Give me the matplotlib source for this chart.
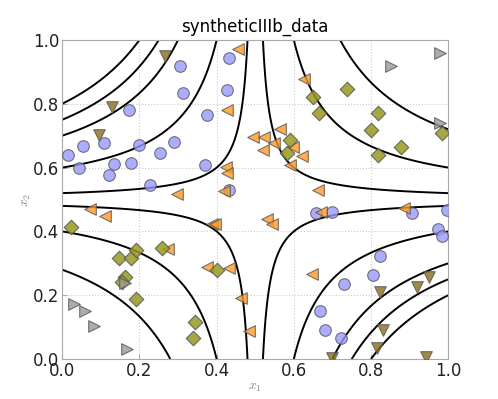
import numpy as np
import matplotlib.pyplot as plt

plt.rcParams['mathtext.fontset'] = 'cm'

# class 1: circles
circ_x = [0.305, 0.431, 0.312, 0.426, 0.174, 0.376, 0.016, 0.043, 0.053, 0.107, 0.135, 0.121,
          0.179, 0.198, 0.254, 0.290, 0.228, 0.369, 0.433, 0.657, 0.698, 0.907, 0.997, 0.973,
          0.984, 0.823, 0.804, 0.731, 0.669, 0.682, 0.721]
circ_y = [0.919, 0.944, 0.834, 0.843, 0.780, 0.766, 0.638, 0.598, 0.667, 0.677, 0.611, 0.577,
          0.614, 0.672, 0.647, 0.680, 0.546, 0.608, 0.530, 0.458, 0.461, 0.458, 0.468, 0.407,
          0.386, 0.323, 0.264, 0.235, 0.151, 0.092, 0.065]

# class 2: left triangles
ltri_x = [0.456, 0.626, 0.426, 0.493, 0.524, 0.564, 0.549, 0.520, 0.599, 0.620, 0.590, 0.423,
          0.426, 0.419, 0.297, 0.662, 0.072, 0.111, 0.387, 0.397, 0.530, 0.543, 0.670, 0.885,
          0.274, 0.374, 0.433, 0.646, 0.464, 0.483]
ltri_y = [0.970, 0.877, 0.780, 0.695, 0.696, 0.722, 0.677, 0.656, 0.664, 0.636, 0.607, 0.603,
          0.582, 0.526, 0.517, 0.531, 0.471, 0.449, 0.423, 0.423, 0.439, 0.423, 0.462, 0.473,
          0.344, 0.289, 0.286, 0.268, 0.191, 0.087]

# class 3: diamonds
diam_x = [0.737, 0.649, 0.665, 0.818, 0.799, 0.984, 0.878, 0.818, 0.589, 0.582, 0.022, 0.146,
          0.178, 0.191, 0.259, 0.162, 0.156, 0.190, 0.400, 0.344, 0.338]
diam_y = [0.845, 0.820, 0.771, 0.770, 0.717, 0.708, 0.663, 0.638, 0.685, 0.645, 0.414, 0.318,
          0.318, 0.341, 0.347, 0.258, 0.241, 0.187, 0.280, 0.116, 0.066]

# class 4: down triangles
dtri_x = [0.266, 0.129, 0.095, 0.823, 0.920, 0.951, 0.832, 0.815, 0.699, 0.942]
dtri_y = [0.948, 0.790, 0.703, 0.211, 0.226, 0.257, 0.092, 0.035, 0.003, 0.007]

# class 5: right triangles
rtri_x = [0.980, 0.852, 0.980, 0.031, 0.059, 0.081, 0.167, 0.163]
rtri_y = [0.958, 0.918, 0.740, 0.173, 0.150, 0.103, 0.031, 0.239]

levels = [-0.15, -0.125, -0.1, -0.05, -0.01, 0.01, 0.05, 0.11]

fig = plt.figure(figsize=(4.98, 3.99), dpi=100)
ax = fig.add_axes([0.125, 0.1, 0.775, 0.8])

g = np.linspace(0, 1, 400)
X, Y = np.meshgrid(g, g)
Z = (X - 0.5) * (Y - 0.5)
ax.contour(X, Y, Z, levels=levels, colors='k', linewidths=1.4, linestyles='solid')

kw = dict(s=70, edgecolors='#555555', linewidths=0.8, alpha=0.8, zorder=3)
ax.scatter(circ_x, circ_y, marker='o', c='#9999ff', **kw)
ax.scatter(ltri_x, ltri_y, marker='<', c='#ff9922', **kw)
ax.scatter(diam_x, diam_y, marker='D', c='#999922', s=55, edgecolors='#555555',
           linewidths=0.8, alpha=0.85, zorder=3)
ax.scatter(dtri_x, dtri_y, marker='v', c='#8a6d1a', **kw)
ax.scatter(rtri_x, rtri_y, marker='>', c='#999999', **kw)

ax.set_xlim(0, 1)
ax.set_ylim(0, 1)
ax.set_xticks([0, 0.2, 0.4, 0.6, 0.8, 1.0])
ax.set_yticks([0, 0.2, 0.4, 0.6, 0.8, 1.0])
ax.grid(True, color='#cccccc', linestyle=':', linewidth=0.8)
for sp in ax.spines.values():
    sp.set_color('#aaaaaa')
ax.tick_params(colors='#aaaaaa', labelcolor='#222222', labelsize=12, direction='in', pad=2)
ax.set_xlabel('$x_1$', color='#888888', fontsize=10, labelpad=0)
ax.set_ylabel('$x_2$', color='#888888', fontsize=10, labelpad=0)
ax.set_title('syntheticIIIb_data', fontsize=12)

fig.savefig('out.png', dpi=100)
